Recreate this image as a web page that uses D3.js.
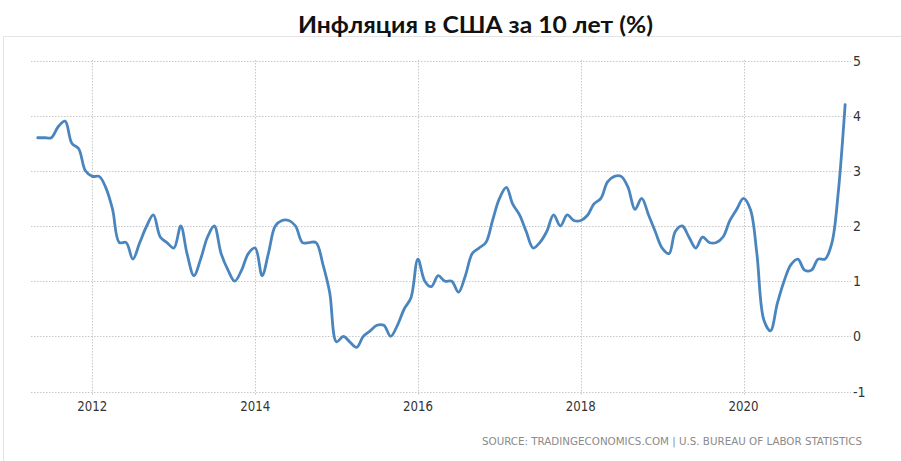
<!DOCTYPE html>
<html><head><meta charset="utf-8">
<script src="https://cdn.jsdelivr.net/npm/d3@7"></script>
<style>body{margin:0;background:#fff}svg{display:block}</style>
</head><body><svg id="c" width="901" height="461"></svg>
<script>
const title = "Инфляция в США за 10 лет (%)";
const source = "SOURCE: TRADINGECONOMICS.COM | U.S. BUREAU OF LABOR STATISTICS";
const startMonth = "2011-05";
const values = [
 3.6,3.6,3.6,3.8,3.9,3.5,3.4,3.0,
 2.9,2.9,2.7,2.3,1.7,1.7,1.4,1.7,2.0,2.2,1.8,1.7,
 1.6,2.0,1.5,1.1,1.4,1.8,2.0,1.5,1.2,1.0,1.2,1.5,
 1.6,1.1,1.5,2.0,2.1,2.1,2.0,1.7,1.7,1.7,1.3,0.8,
 -0.1,0.0,-0.1,-0.2,0.0,0.1,0.2,0.2,0.0,0.2,0.5,0.7,
 1.4,1.0,0.9,1.1,1.0,1.0,0.8,1.1,1.5,1.6,1.7,2.1,
 2.5,2.7,2.4,2.2,1.9,1.6,1.7,1.9,2.2,2.0,2.2,2.1,
 2.1,2.2,2.4,2.5,2.8,2.9,2.9,2.7,2.3,2.5,2.2,1.9,
 1.6,1.5,1.9,2.0,1.8,1.6,1.8,1.7,1.7,1.8,2.1,2.3,
 2.5,2.3,1.5,0.3,0.1,0.6,1.0,1.3,1.4,1.2,1.2,1.4,
 1.4,1.7,2.6,4.2
];
const yTicks = [5,4,3,2,1,0,-1];
const xTickYears = [2012,2014,2016,2018,2020];

const parse = d3.timeParse("%Y-%m");
const t0 = parse(startMonth);
const data = values.map((v,i)=>({date:d3.timeMonth.offset(t0,i), v}));

const svg = d3.select("#c");
const x = d3.scaleTime()
  .domain([new Date(2012,0,1), new Date(2020,0,1)])
  .range([92.3, 743.5]);
const y = d3.scaleLinear().domain([-1,5]).range([391.5,60.5]);

// frame
svg.append("line").attr("x1",3.5).attr("x2",901).attr("y1",36.5).attr("y2",36.5)
  .attr("stroke","#e3e3e3").attr("stroke-width",1);
svg.append("line").attr("x1",3.5).attr("x2",3.5).attr("y1",36.5).attr("y2",461)
  .attr("stroke","#e3e3e3").attr("stroke-width",1);

const labelFont = "'Liberation Sans Narrow','Arial Narrow','DejaVu Sans Condensed',sans-serif";

// horizontal grid + y labels
const gy = svg.append("g");
gy.selectAll("line").data(yTicks).join("line")
  .attr("x1",31).attr("x2",851)
  .attr("y1",d=>Math.round(y(d))+0.5).attr("y2",d=>Math.round(y(d))+0.5)
  .attr("stroke","#c8c8c8").attr("stroke-dasharray","1.5,1.5");
gy.selectAll("text").data(yTicks).join("text")
  .attr("x",853).attr("y",d=>y(d)+5)
  .attr("font-family",labelFont)
  .attr("font-size",14).attr("fill","#333")
  .text(d=>d);

// vertical grid + x labels
const xt = xTickYears.map(yr=>new Date(yr,0,1));
const gx = svg.append("g");
gx.selectAll("line").data(xt).join("line")
  .attr("x1",d=>Math.round(x(d))+0.5).attr("x2",d=>Math.round(x(d))+0.5)
  .attr("y1",60).attr("y2",396)
  .attr("stroke","#c8c8c8").attr("stroke-dasharray","1.5,1.5");
gx.selectAll("text").data(xt).join("text")
  .attr("x",d=>x(d)).attr("y",411).attr("text-anchor","middle")
  .attr("font-family",labelFont)
  .attr("font-size",14).attr("fill","#333")
  .attr("textLength",30).attr("lengthAdjust","spacingAndGlyphs")
  .text(d=>d.getFullYear());

// line
const line = d3.line().x(d=>x(d.date)).y(d=>y(d.v)).curve(d3.curveCatmullRom.alpha(0.5));
svg.append("path").datum(data).attr("d",line)
  .attr("fill","none").attr("stroke","#4a86bd").attr("stroke-width",2.8)
  .attr("stroke-linejoin","round").attr("stroke-linecap","round");

// title
svg.append("text").attr("x",298).attr("y",33)
  .attr("textLength",355).attr("lengthAdjust","spacingAndGlyphs")
  .attr("font-family","Lato, 'Open Sans', sans-serif").attr("font-weight",700)
  .attr("font-size",22).attr("fill","#111").text(title);

// source
svg.append("text").attr("x",482).attr("y",445)
  .attr("textLength",380).attr("lengthAdjust","spacingAndGlyphs")
  .attr("font-family",labelFont)
  .attr("font-size",10).attr("fill","#8a8a8a").text(source);
</script></body></html>
